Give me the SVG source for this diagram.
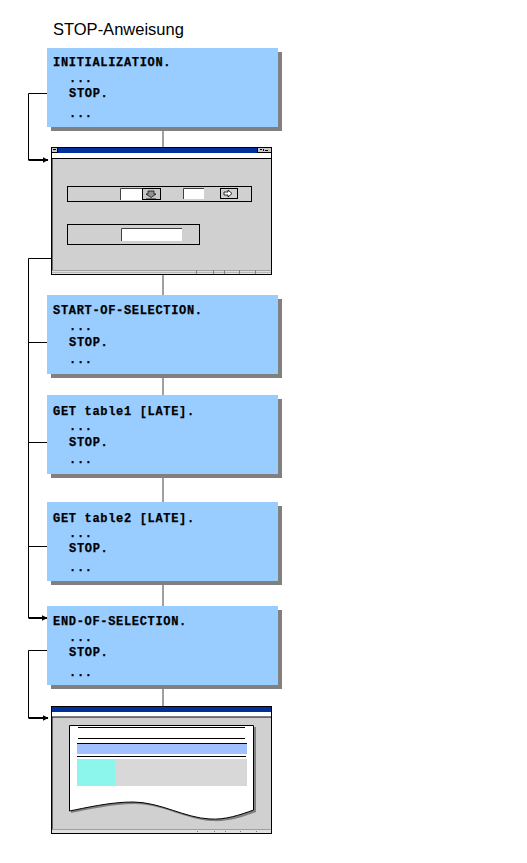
<svg xmlns="http://www.w3.org/2000/svg" width="527" height="863" viewBox="0 0 527 863">
<style>
.box{fill:#99CCFF}
.sh{fill:#808080}
.code{font-family:"Liberation Mono",monospace;font-weight:bold;font-size:12px;letter-spacing:0.68px;fill:#000;stroke:#000;stroke-width:0.25}
.title{font-family:"Liberation Sans",Arial,sans-serif;font-size:16.5px;fill:#000}
.blk{stroke:#000;stroke-width:1;fill:none}
.arr{stroke:#000;stroke-width:2;fill:none}
.gray{stroke:#A0A0A0;stroke-width:2;fill:none}
.win{fill:#D0D0D0;stroke:#000;stroke-width:1}
.tb{fill:#00309C}
</style>
<defs>
<marker id="ah" viewBox="0 0 6 6" refX="5.5" refY="3" markerWidth="6" markerHeight="6" markerUnits="userSpaceOnUse" orient="auto">
<path d="M0,0 L6,3 L0,6 Z" fill="#000"/>
</marker>
</defs>
<rect width="527" height="863" fill="#fff"/>
<text class="title" x="53" y="35">STOP-Anweisung</text>

<g id="connectors">
<line class="gray" x1="163" y1="127" x2="163" y2="706"/>
<polyline class="blk" points="56,93.5 28.5,93.5 28.5,160"/>
<polyline class="arr" points="28.5,160 48,160" marker-end="url(#ah)"/>
<polyline class="blk" points="59,258.5 28.5,258.5 28.5,618"/>
<polyline class="arr" points="28.5,618 47,618" marker-end="url(#ah)"/>
<line class="blk" x1="28.5" y1="342.5" x2="56" y2="342.5"/>
<line class="blk" x1="28.5" y1="442.5" x2="56" y2="442.5"/>
<line class="blk" x1="28.5" y1="546.5" x2="56" y2="546.5"/>
<polyline class="blk" points="56,650.5 28.5,650.5 28.5,718"/>
<polyline class="arr" points="28.5,718 48,718" marker-end="url(#ah)"/>
</g>

<g id="init">
<rect class="sh" x="51" y="52" width="231" height="79"/>
<rect class="box" x="47" y="48" width="231" height="79"/>
<text class="code" x="53" y="66">INITIALIZATION.</text>
<text class="code" x="69" y="82">...</text>
<text class="code" x="69" y="97">STOP.</text>
<text class="code" x="69" y="117">...</text>
</g>

<g id="screen1">
<rect class="win" x="51.5" y="147.5" width="220" height="127"/>
<line x1="52" y1="147" x2="52" y2="275" stroke="#000" stroke-width="1"/>
<rect class="tb" x="51" y="147" width="221" height="6"/>
<rect x="51.5" y="147.5" width="6" height="5" fill="#C8C8C8" stroke="#000" stroke-width="1"/>
<line x1="53" y1="149.5" x2="56" y2="149.5" stroke="#000"/>
<rect x="257.5" y="147.5" width="14" height="5" fill="#C8C8C8" stroke="#000" stroke-width="1"/>
<line x1="260" y1="149.5" x2="262" y2="149.5" stroke="#000"/>
<line x1="263.5" y1="149" x2="263.5" y2="151" stroke="#000"/>
<line x1="265" y1="150.5" x2="268" y2="150.5" stroke="#000"/>
<rect x="52" y="153" width="219" height="5" fill="#fff"/>
<line x1="52" y1="158.5" x2="271" y2="158.5" stroke="#000"/>
<rect x="67.5" y="186.5" width="184" height="15" fill="none" stroke="#000"/>
<rect x="120" y="188" width="23" height="12" fill="#fff"/>
<polyline points="120.5,200 120.5,188.5 143,188.5" fill="none" stroke="#404040"/>
<rect x="142.5" y="188.5" width="18" height="11" fill="#C8C8C8" stroke="#000"/>
<path d="M148,191 H154 V194 H156 L151,197.5 L146,194 H148 Z" fill="#909090" stroke="#000" stroke-width="0.7"/>
<line x1="146" y1="198.5" x2="156" y2="198.5" stroke="#707070"/>
<rect x="183" y="188" width="21" height="11" fill="#fff"/>
<polyline points="183.5,199 183.5,188.5 204,188.5" fill="none" stroke="#404040"/>
<rect x="220.5" y="188.5" width="17" height="10" fill="#D0D0D0" stroke="#000"/>
<path d="M224,192 H228 V190 L232,193.5 L228,197 V195 H224 Z" fill="#fff" stroke="#000" stroke-width="0.8"/>
<rect x="67.5" y="224.5" width="132" height="20" fill="none" stroke="#000"/>
<rect x="121" y="228" width="61" height="13" fill="#fff"/>
<polyline points="121.5,241 121.5,228.5 182,228.5" fill="none" stroke="#404040"/>
<rect x="52" y="270" width="219" height="4" fill="#E0E0E0"/>
<line x1="52" y1="270.5" x2="271" y2="270.5" stroke="#A0A0A0"/>
<line x1="52" y1="272.5" x2="271" y2="272.5" stroke="#B8B8B8"/>
<g stroke="#808080" stroke-width="1">
<line x1="196.5" y1="270" x2="196.5" y2="274"/>
<line x1="213.5" y1="270" x2="213.5" y2="274"/>
<line x1="224.5" y1="270" x2="224.5" y2="274"/>
<line x1="239.5" y1="270" x2="239.5" y2="274"/>
<line x1="255.5" y1="270" x2="255.5" y2="274"/>
</g>
<rect x="51.5" y="147.5" width="220" height="127" fill="none" stroke="#000"/>
</g>

<g id="start">
<rect class="sh" x="51" y="299" width="231" height="79"/>
<rect class="box" x="47" y="295" width="231" height="79"/>
<text class="code" x="53" y="314">START-OF-SELECTION.</text>
<text class="code" x="69" y="330">...</text>
<text class="code" x="69" y="346">STOP.</text>
<text class="code" x="69" y="363">...</text>
</g>

<g id="get1">
<rect class="sh" x="51" y="399" width="231" height="79"/>
<rect class="box" x="47" y="395" width="231" height="79"/>
<text class="code" x="53" y="415">GET table1 [LATE].</text>
<text class="code" x="69" y="430">...</text>
<text class="code" x="69" y="446">STOP.</text>
<text class="code" x="69" y="463">...</text>
</g>

<g id="get2">
<rect class="sh" x="51" y="506" width="231" height="79"/>
<rect class="box" x="47" y="502" width="231" height="79"/>
<text class="code" x="53" y="522">GET table2 [LATE].</text>
<text class="code" x="69" y="537">...</text>
<text class="code" x="69" y="552">STOP.</text>
<text class="code" x="69" y="571">...</text>
</g>

<g id="end">
<rect class="sh" x="51" y="610" width="231" height="79"/>
<rect class="box" x="47" y="606" width="231" height="79"/>
<text class="code" x="53" y="625">END-OF-SELECTION.</text>
<text class="code" x="69" y="641">...</text>
<text class="code" x="69" y="656">STOP.</text>
<text class="code" x="69" y="676">...</text>
</g>

<g id="screen2">
<rect class="win" x="51.5" y="706.5" width="220" height="127"/>
<line x1="52" y1="706" x2="52" y2="834" stroke="#000" stroke-width="1"/>
<rect class="tb" x="51" y="706" width="221" height="6"/>
<rect x="52" y="712" width="219" height="5" fill="#fff"/>
<line x1="52" y1="717" x2="271" y2="717" stroke="#000"/>
<path d="M71,727 H256 V812 C243,817 228,822 212,821 C187,820 162,804 135,804 C112,804 87,810 71,813 Z" fill="#808080"/>
<path d="M69.5,725.5 H253.5 V810 C240,815 225,820 210,819 C185,818 160,802 133,802 C110,802 85,808 69.5,811 Z" fill="#fff" stroke="#000" stroke-width="1"/>
<line x1="78" y1="727.5" x2="245" y2="727.5" stroke="#000"/>
<line x1="78" y1="738.5" x2="245" y2="738.5" stroke="#000"/>
<line x1="77" y1="743.5" x2="247" y2="743.5" stroke="#000"/>
<rect x="77" y="744" width="170" height="10" fill="#A0C0FF"/>
<line x1="77" y1="756.5" x2="246" y2="756.5" stroke="#000"/>
<rect x="77" y="759" width="38" height="27" fill="#8CF5EC"/>
<rect x="115" y="759" width="132" height="27" fill="#D8D8D8"/>
<rect x="52" y="829" width="219" height="4" fill="#E0E0E0"/>
<line x1="52" y1="829.5" x2="271" y2="829.5" stroke="#A0A0A0"/>
<g fill="#808080">
<rect x="197" y="831" width="1" height="1"/>
<rect x="214" y="831" width="1" height="1"/>
<rect x="225" y="831" width="1" height="1"/>
<rect x="240" y="831" width="1" height="1"/>
<rect x="256" y="831" width="1" height="1"/>
</g>
<rect x="51.5" y="706.5" width="220" height="127" fill="none" stroke="#000"/>
</g>
</svg>
